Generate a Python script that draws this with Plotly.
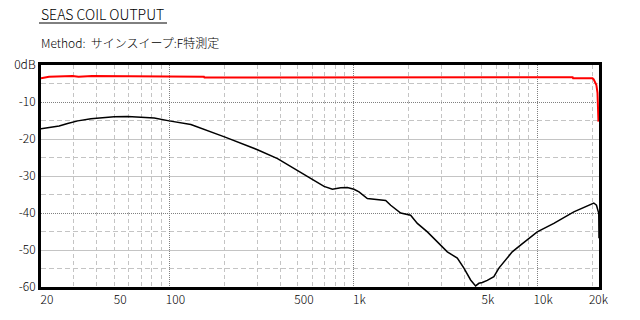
import numpy as np
import plotly.graph_objects as go

# ---- data ----
freq_black = [20, 22.7, 25.1, 27.9, 31.7, 37.4, 42.4, 50, 59.2, 69.9, 82.6, 99.6, 130.7,
              200.7, 301, 387, 507, 611, 693, 770, 854, 928, 1008, 1074, 1192, 1352, 1500,
              1597, 1810, 2050, 2230, 2528, 2864, 3246, 3678, 3996, 4346, 4626, 4822, 5030,
              5354, 5816, 6192, 6734, 7320, 8122, 10012, 12326, 15828, 20330, 21020, 21640, 21700]
db_black = [-17.2, -16.9, -16.5, -15.8, -15.1, -14.5, -14.2, -14.0, -13.9, -14.0, -14.3, -15.1, -16.1,
            -19.5, -22.9, -25.3, -28.9, -31.2, -32.8, -33.6, -33.2, -33.1, -33.6, -34.3, -36.1, -36.4, -36.6,
            -37.9, -40.0, -40.6, -42.8, -45.1, -47.8, -50.5, -52.2, -54.9, -58.1, -59.7, -59.0, -58.8,
            -58.2, -57.2, -54.9, -52.7, -50.5, -48.7, -45.1, -42.8, -39.7, -37.3, -37.9, -40.1, -46.8]

freq_red = [20, 22.1, 29.7, 32, 37.9, 79.4, 154, 155, 244, 246, 15600, 15700, 20000,
            20300, 20500, 20800, 21000, 21300, 21550]
db_red = [-3.6, -3.2, -3.0, -3.2, -3.0, -3.1, -3.2, -3.4, -3.4, -3.2, -3.3, -3.6, -3.6,
          -3.9, -4.4, -4.9, -5.4, -7.5, -15.3]

x_tickvals = [20, 50, 100, 500, 1000, 5000, 10000, 20000]
x_ticktext = ["20", "50", "100", "500", "1k", "5k", "10k", "20k"]
x_major_grid = [100, 1000, 10000]
x_minor_grid = [30, 40, 50, 60, 70, 80, 90, 200, 300, 400, 500, 600, 700, 800, 900,
                2000, 3000, 4000, 5000, 6000, 7000, 8000, 9000, 20000]
y_tickvals = [0, -10, -20, -30, -40, -50, -60]
y_ticktext = ["0dB", "-10", "-20", "-30", "-40", "-50", "-60"]
y_dot_grid = [-10, -40]
y_solid_grid = [-20, -30, -50]
y_dash_grid = [-5, -15, -25, -35, -45, -55]

title_text = "SEAS COIL OUTPUT"
method_text = "Method:\u00a0\u00a0サインスイープ:F特測定"

FONT = "Noto Sans CJK JP"
xr = [np.log10(20), np.log10(21700)]
yr = [-60, 0]
LIGHT = "#c4c4c4"
DARK = "#808080"

fig = go.Figure()
fig.add_trace(go.Scatter(x=freq_black, y=db_black, mode="lines",
                         line=dict(color="black", width=1.5), xaxis="x", yaxis="y",
                         hoverinfo="skip"))
fig.add_trace(go.Scatter(x=freq_red, y=db_red, mode="lines", line_shape="linear",
                         line=dict(color="#ff0000", width=2), xaxis="x", yaxis="y",
                         hoverinfo="skip"))
# dummy traces so overlay axes exist
fig.add_trace(go.Scatter(x=[None], y=[None], xaxis="x2", yaxis="y2", showlegend=False))
fig.add_trace(go.Scatter(x=[None], y=[None], xaxis="x2", yaxis="y3", showlegend=False))

fig.update_layout(
    width=640, height=320,
    margin=dict(l=41, r=41, t=65, b=33),
    paper_bgcolor="white", plot_bgcolor="white",
    showlegend=False,
    font=dict(family=FONT, size=12, color="black", weight=300),
    xaxis=dict(type="log", range=xr, tickmode="array", tickvals=x_tickvals, ticktext=x_ticktext,
               showgrid=False, zeroline=False, showline=True, linecolor="black", linewidth=3,
               mirror=True, ticks="", ticklabelshift=6,
               tickfont=dict(family=FONT, size=12, weight=300),
               minor=dict(tickmode="array", tickvals=x_minor_grid, showgrid=True,
                          gridcolor=LIGHT, gridwidth=1, griddash="4px,3px", ticks="")),
    xaxis2=dict(type="log", range=xr, overlaying="x", anchor="y", tickmode="array",
                tickvals=x_major_grid, showticklabels=False, showgrid=True,
                gridcolor=DARK, gridwidth=1, griddash="1px,1px", zeroline=False,
                showline=False, ticks=""),
    yaxis=dict(range=yr, tickmode="array", tickvals=y_tickvals, ticktext=y_ticktext,
               showgrid=False, zeroline=False, showline=True, linecolor="black", linewidth=3,
               mirror=True, ticks="", tickfont=dict(family=FONT, size=12, weight=300),
               minor=dict(tickmode="array", tickvals=y_dash_grid, showgrid=True,
                          gridcolor=LIGHT, gridwidth=1, griddash="5px,3px", ticks="")),
    yaxis2=dict(range=yr, overlaying="y", anchor="x", tickmode="array", tickvals=y_solid_grid,
                showticklabels=False, showgrid=True, gridcolor=LIGHT, gridwidth=1,
                zeroline=False, showline=False, ticks=""),
    yaxis3=dict(range=yr, overlaying="y", anchor="x", tickmode="array", tickvals=y_dot_grid,
                showticklabels=False, showgrid=True, gridcolor=DARK, gridwidth=1,
                griddash="1px,1px", zeroline=False, showline=False, ticks=""),
)

def py(pix):
    return (287 - pix) / 222.0

def px(pix):
    return (pix - 41) / 558.0

fig.add_annotation(text=title_text, xref="paper", yref="paper", x=px(39), y=py(14),
                   xanchor="left", yanchor="middle", showarrow=False,
                   font=dict(family=FONT, size=14, color="black", weight=300))
fig.add_shape(type="line", xref="paper", yref="paper", x0=px(39), x1=px(167),
              y0=py(23), y1=py(23), line=dict(color="black", width=1))
fig.add_annotation(text=method_text, xref="paper", yref="paper", x=px(39), y=py(43),
                   xanchor="left", yanchor="middle", showarrow=False,
                   font=dict(family=FONT, size=12, color="black", weight=300))

fig.write_html("out.html")
